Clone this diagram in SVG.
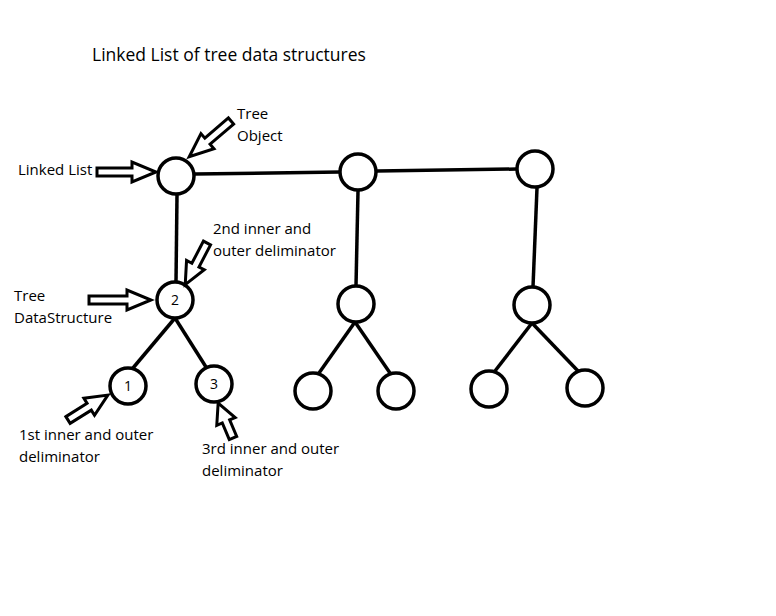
<svg xmlns="http://www.w3.org/2000/svg" width="776" height="616" viewBox="0 0 776 616">
<style>
.bg{fill:#fff}
.node{fill:#fff;stroke:#000;stroke-width:3.5}
.edge{stroke:#000;stroke-width:3.5;fill:none}
.ha{fill:#fff;stroke:#000;stroke-width:3;stroke-linejoin:miter}
text{font-family:"Open Sans","Noto Sans","DejaVu Sans",sans-serif;fill:#000}
.lbl{font-size:15px}
.num{font-size:14px;text-anchor:middle}
.title{font-size:17.5px}
</style>
<rect class="bg" width="776" height="616"/>
<text class="title" x="92" y="61">Linked List of tree data structures</text>
<g id="connectors">
<line class="edge" x1="195" y1="174" x2="340" y2="172"/>
<line class="edge" x1="377" y1="171" x2="517" y2="169"/>
<line class="edge" x1="177" y1="195" x2="176" y2="282"/>
<line class="edge" x1="358" y1="191" x2="356" y2="286"/>
<line class="edge" x1="537" y1="188" x2="533" y2="287"/>
<line class="edge" x1="175" y1="318" x2="133" y2="368"/>
<line class="edge" x1="175" y1="318" x2="206" y2="367"/>
<line class="edge" x1="355" y1="322" x2="319" y2="373"/>
<line class="edge" x1="355" y1="322" x2="390" y2="373"/>
<line class="edge" x1="532" y1="323" x2="495" y2="371"/>
<line class="edge" x1="532" y1="323" x2="578" y2="371"/>
</g>
<g id="n-ll1"><circle class="node" cx="176" cy="176" r="18"/></g>
<g id="n-ll2"><circle class="node" cx="358" cy="172" r="18"/></g>
<g id="n-ll3"><circle class="node" cx="535" cy="169" r="18"/></g>
<g id="n-t1"><circle class="node" cx="175" cy="300" r="18"/><text class="num" x="175" y="305">2</text></g>
<g id="n-t2"><circle class="node" cx="356" cy="304" r="18"/></g>
<g id="n-t3"><circle class="node" cx="532" cy="305" r="18"/></g>
<g id="n-c1"><circle class="node" cx="128" cy="386" r="18"/><text class="num" x="128" y="391">1</text></g>
<g id="n-c3"><circle class="node" cx="214" cy="384" r="18"/><text class="num" x="214" y="389">3</text></g>
<g id="n-c4"><circle class="node" cx="313" cy="391" r="18"/></g>
<g id="n-c5"><circle class="node" cx="396" cy="391" r="18"/></g>
<g id="n-c6"><circle class="node" cx="489" cy="389" r="18"/></g>
<g id="n-c7"><circle class="node" cx="585" cy="388" r="18"/></g>
<g id="arrows">
<path class="ha" transform="translate(97,172)" d="M0,-4 L35,-4 L35,-10 L59,0 L35,10 L35,4 L0,4 Z"/>
<path class="ha" transform="translate(231,121) rotate(139.4)" d="M0,-4 L31,-4 L31,-10 L55,0 L31,10 L31,4 L0,4 Z"/>
<path class="ha" transform="translate(207,243) rotate(117.6)" d="M0,-4 L25,-4 L25,-10 L47,0 L25,10 L25,4 L0,4 Z"/>
<path class="ha" transform="translate(89,300)" d="M0,-4 L38,-4 L38,-10 L62,0 L38,10 L38,4 L0,4 Z"/>
<path class="ha" transform="translate(68,420) rotate(-32)" d="M0,-4 L25,-4 L25,-10 L47,0 L25,10 L25,4 L0,4 Z"/>
<path class="ha" transform="translate(233,438) rotate(-113)" d="M0,-4 L18,-4 L18,-10 L38,0 L18,10 L18,4 L0,4 Z"/>
</g>
<g id="labels">
<text class="lbl" x="237" y="119">Tree</text>
<text class="lbl" x="237" y="141">Object</text>
<text class="lbl" x="18" y="175">Linked List</text>
<text class="lbl" x="213" y="234">2nd inner and</text>
<text class="lbl" x="213" y="256">outer deliminator</text>
<text class="lbl" x="14" y="301">Tree</text>
<text class="lbl" x="14" y="323">DataStructure</text>
<text class="lbl" x="19" y="440">1st inner and outer</text>
<text class="lbl" x="19" y="462">deliminator</text>
<text class="lbl" x="202" y="454">3rd inner and outer</text>
<text class="lbl" x="202" y="476">deliminator</text>
</g>
</svg>
